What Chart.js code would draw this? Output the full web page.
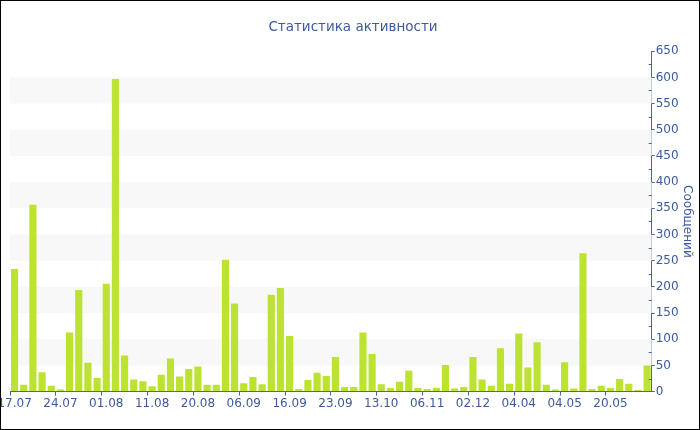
<!DOCTYPE html>
<html>
<head>
<meta charset="utf-8">
<script src="https://cdn.jsdelivr.net/npm/chart.js@4"></script>
<style>
  html, body { margin: 0; padding: 0; background: #fff; }
  #wrap { width: 698px; height: 428px; border: 1px solid #000; position: relative; }
</style>
</head>
<body>
<div id="wrap"><canvas id="activityChart" width="698" height="428"></canvas></div>
<script>
// ===== Data =====
const tickLabels = ['17.07', '24.07', '01.08', '11.08', '20.08', '06.09', '16.09',
  '23.09', '13.10', '06.11', '02.12', '04.04', '04.05', '20.05'];
const labelEvery = 5;

const messages = [
  234, 13, 357, 37, 11, 4, 113, 194, 55, 26,
  206, 597, 69, 23, 20, 10, 32, 63, 29, 43,
  48, 13, 13, 252, 168, 16, 28, 14, 185, 198,
  106, 5, 22, 36, 30, 66, 9, 9, 113, 72,
  14, 7, 19, 40, 7, 5, 7, 51, 6, 9,
  66, 23, 11, 83, 15, 111, 46, 94, 13, 4,
  56, 6, 264, 5, 11, 7, 24, 15, 3, 50
];

const yTicks = { min: 0, max: 650, major: 50, minor: 25 };

// one category per bar, only every 5th one is labelled
const categories = messages.map((_, i) =>
  i % labelEvery === 0 ? tickLabels[i / labelEvery] || '' : ''
);

// ===== Styles =====
const textColor = '#3d5a9f';
const axisColor = '#4b64a8';
const barColor = '#bce232';
const bandColor = '#f8f8f8';
const fontFamily = '"DejaVu Sans", Verdana, sans-serif';

// alternating horizontal bands behind the bars
const bandsPlugin = {
  id: 'bands',
  beforeDatasetsDraw(chart) {
    const { ctx, chartArea, scales } = chart;
    const y = scales.y;
    ctx.save();
    ctx.fillStyle = bandColor;
    for (let v = yTicks.major; v < yTicks.max; v += yTicks.major * 2) {
      const top = y.getPixelForValue(Math.min(v + yTicks.major, yTicks.max));
      const bottom = y.getPixelForValue(v);
      ctx.fillRect(chartArea.left, top, chartArea.right - chartArea.left, bottom - top);
    }
    ctx.restore();
  }
};

// small inner ticks between the labelled values
const minorTicksPlugin = {
  id: 'minorTicks',
  afterDraw(chart) {
    const { ctx, chartArea, scales } = chart;
    const y = scales.y;
    ctx.save();
    ctx.strokeStyle = axisColor;
    ctx.lineWidth = 1;
    for (let v = yTicks.minor; v < yTicks.max; v += yTicks.major) {
      const py = Math.round(y.getPixelForValue(v)) + 0.5;
      ctx.beginPath();
      ctx.moveTo(chartArea.right - 3, py);
      ctx.lineTo(chartArea.right, py);
      ctx.stroke();
    }
    ctx.restore();
  }
};

const chart = new Chart(document.getElementById('activityChart').getContext('2d'), {
  type: 'bar',
  data: {
    labels: categories,
    datasets: [{
      label: 'Сообщений',
      data: messages,
      backgroundColor: barColor,
      borderWidth: 0,
      barPercentage: 0.78,
      categoryPercentage: 1.0
    }]
  },
  options: {
    responsive: false,
    animation: false,
    layout: { padding: { left: 9, right: 3, bottom: 17, top: 0 } },
    plugins: {
      legend: { display: false },
      tooltip: { enabled: false },
      title: {
        display: true,
        text: 'Статистика активности',
        color: textColor,
        font: { family: fontFamily, size: 13.5, weight: 'normal' },
        padding: { top: 18, bottom: 16 }
      }
    },
    scales: {
      x: {
        offset: true,
        grid: {
          drawOnChartArea: false,
          tickLength: 4,
          tickColor: (c) => (c.index % labelEvery === 0 ? axisColor : 'transparent')
        },
        border: { color: axisColor, width: 1 },
        ticks: {
          autoSkip: false,
          maxRotation: 0,
          padding: 1,
          color: textColor,
          font: { family: fontFamily, size: 12 }
        },
        afterFit(scale) {
          scale.paddingLeft = 0;
          scale.paddingRight = 0;
        }
      },
      y: {
        position: 'right',
        min: yTicks.min,
        max: yTicks.max,
        grid: { drawOnChartArea: false, tickLength: 3, tickColor: axisColor },
        border: { color: axisColor, width: 1 },
        ticks: {
          stepSize: yTicks.major,
          padding: 1,
          color: textColor,
          font: { family: fontFamily, size: 12 }
        },
        title: {
          display: true,
          text: 'Сообщений',
          color: textColor,
          font: { family: fontFamily, size: 12 },
          padding: { top: 2, bottom: 0 }
        }
      }
    }
  },
  plugins: [bandsPlugin, minorTicksPlugin]
});
</script>
</body>
</html>
